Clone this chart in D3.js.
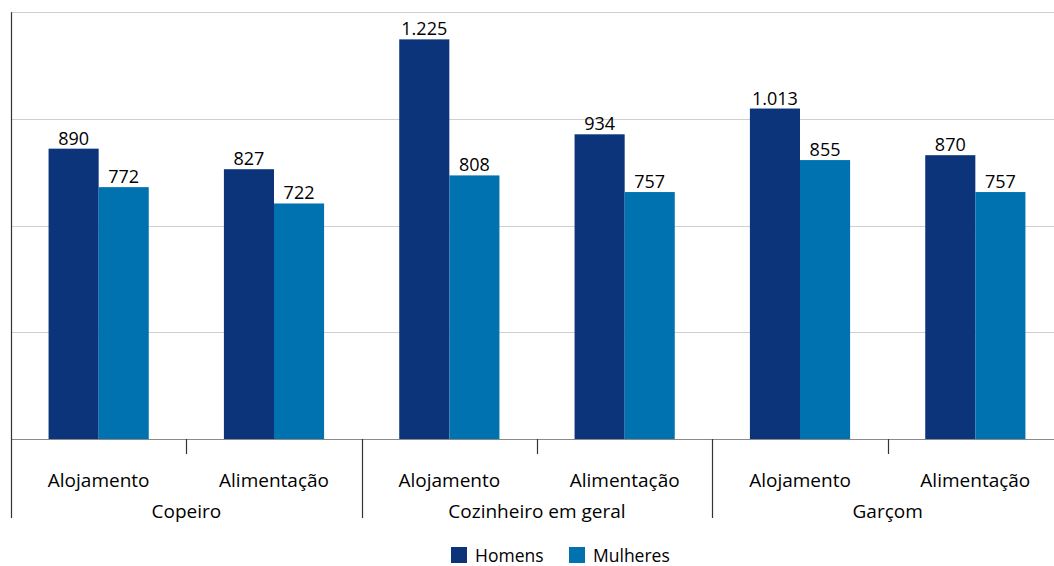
<!DOCTYPE html>
<html><head><meta charset="utf-8">
<script src="https://cdn.jsdelivr.net/npm/d3@7"></script>
<style>
html,body{margin:0;padding:0;background:#fff;}
svg{display:block;font-family:"Open Sans","Noto Sans",sans-serif;}
</style></head>
<body>
<svg id="chart" width="1054" height="566"></svg>
<script>
const groups = ["Copeiro", "Cozinheiro em geral", "Garçom"];
const subcategories = ["Alojamento", "Alimentação"];
const seriesNames = ["Homens", "Mulheres"];
const homens = [890, 827, 1225, 934, 1013, 870];
const mulheres = [772, 722, 808, 757, 855, 757];
const gridTicks = [0, 327, 654, 981, 1308];
const colors = ["#0b347a", "#0072b0"];

(function () {
const svg = d3.select("#chart");
const locale = d3.formatLocale({decimal: ",", thousands: ".", grouping: [3], currency: ["R$", ""]});
const fmt = locale.format(",d");

const rows = [];
groups.forEach((g, gi) => subcategories.forEach((s, si) => {
  const i = gi * subcategories.length + si;
  rows.push({key: g + "|" + s, group: g, sub: s, values: [homens[i], mulheres[i]]});
}));

const plotLeft = 11, plotRight = 1063, base = 439, plotTop = 12.3;
const x0 = d3.scaleBand().domain(rows.map(r => r.key)).range([plotLeft, plotRight]).padding(0);
const x1 = d3.scaleBand().domain(seriesNames).range([0, x0.bandwidth()]).paddingInner(0).paddingOuter(0.75);
const y = d3.scaleLinear().domain([0, 1308]).range([base, plotTop]);

// gridlines
svg.append("g").selectAll("line").data(gridTicks.slice(1)).join("line")
  .attr("x1", plotLeft).attr("x2", 1054)
  .attr("y1", d => Math.round(y(d)) + 0.5).attr("y2", d => Math.round(y(d)) + 0.5)
  .attr("stroke", "#cfcfcf").attr("stroke-width", 1);

// bars
const bg = svg.append("g").selectAll("g").data(rows).join("g")
  .attr("transform", d => `translate(${x0(d.key)},0)`);
bg.selectAll("rect").data(d => d.values.map((v, i) => ({name: seriesNames[i], v, i}))).join("rect")
  .attr("x", d => x1(d.name)).attr("width", x1.bandwidth())
  .attr("y", d => y(d.v)).attr("height", d => base - y(d.v))
  .attr("fill", d => colors[d.i]);
bg.selectAll("text").data(d => d.values.map((v, i) => ({name: seriesNames[i], v, i}))).join("text")
  .attr("x", d => x1(d.name) + x1.bandwidth() / 2).attr("y", d => y(d.v) - 4)
  .attr("text-anchor", "middle").attr("font-size", 18).attr("fill", "#000")
  .text(d => fmt(d.v));

// baseline
svg.append("line").attr("x1", plotLeft).attr("x2", 1054).attr("y1", base + 0.5).attr("y2", base + 0.5)
  .attr("stroke", "#8a8a8a").attr("stroke-width", 1.2);
// left axis
svg.append("line").attr("x1", plotLeft + 0.5).attr("x2", plotLeft + 0.5).attr("y1", plotTop).attr("y2", 518)
  .attr("stroke", "#333").attr("stroke-width", 1.2);

// ticks between subcategories and groups
rows.forEach((r, i) => {
  if (i === 0) return;
  const xx = Math.round(x0(r.key)) + 0.5;
  const isGroup = i % subcategories.length === 0;
  svg.append("line").attr("x1", xx).attr("x2", xx).attr("y1", base).attr("y2", isGroup ? 518 : 454)
    .attr("stroke", "#333").attr("stroke-width", 1.2);
});

// subcategory labels
svg.append("g").selectAll("text").data(rows).join("text")
  .attr("x", d => x0(d.key) + x0.bandwidth() / 2).attr("y", 487)
  .attr("text-anchor", "middle").attr("font-size", 19).attr("fill", "#000")
  .text(d => d.sub);

// group labels
svg.append("g").selectAll("text").data(groups).join("text")
  .attr("x", g => {
    const ks = rows.filter(r => r.group === g).map(r => r.key);
    return (x0(ks[0]) + x0(ks[ks.length - 1]) + x0.bandwidth()) / 2;
  }).attr("y", 517.5)
  .attr("text-anchor", "middle").attr("font-size", 19).attr("fill", "#000")
  .text(g => g);

// legend
const legendX = [451, 569];
const lg = svg.append("g").selectAll("g").data(seriesNames).join("g")
  .attr("transform", (d, i) => `translate(${legendX[i]},547)`);
lg.append("rect").attr("width", 16).attr("height", 16).attr("fill", (d, i) => colors[i]);
lg.append("text").attr("x", 24).attr("y", 14.5).attr("font-size", 17.5).attr("fill", "#000").text(d => d);
})();
</script>
</body></html>
